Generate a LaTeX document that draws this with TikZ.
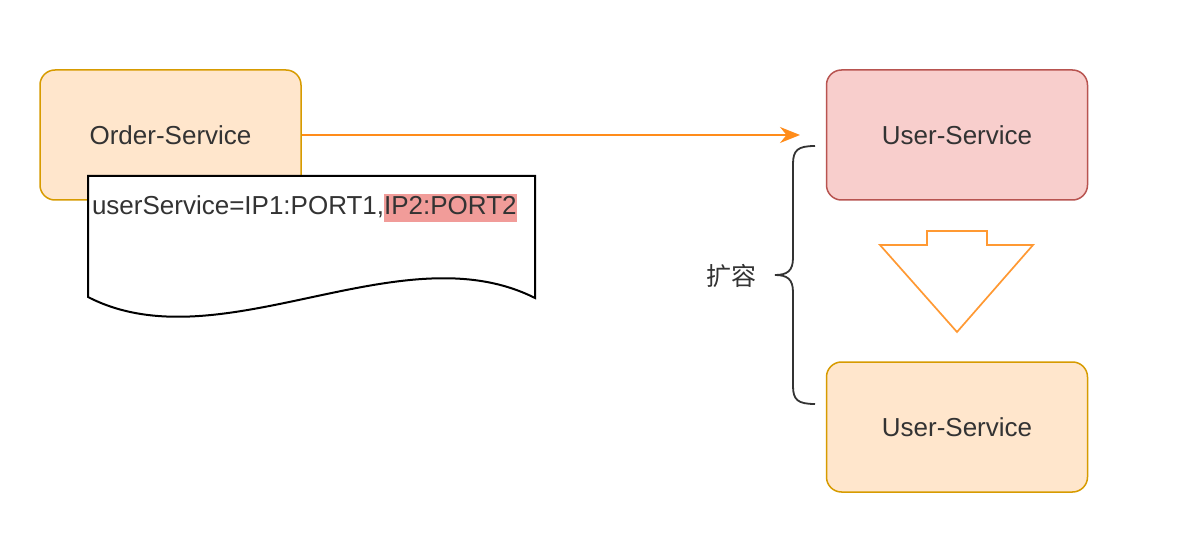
\documentclass[tikz,border=0pt]{standalone}
\usepackage{fontspec}
\setmainfont{Liberation Sans}
\newfontfamily\cjk{Noto Sans CJK SC}
\usetikzlibrary{positioning,arrows.meta}

\definecolor{orfill}{HTML}{FFE6CC}
\definecolor{ordraw}{HTML}{D79B00}
\definecolor{rdfill}{HTML}{F8CECC}
\definecolor{rddraw}{HTML}{B85450}
\definecolor{flowc}{HTML}{FF8C1A}
\definecolor{bigarr}{HTML}{FF9933}
\definecolor{hlc}{HTML}{F19C99}
\definecolor{txt}{HTML}{333333}

\tikzset{
  svc/.style={rounded corners=7.5pt, minimum width=130.5pt, minimum height=65pt,
    inner sep=0pt, line width=0.75pt, text=txt, font=\fontsize{13pt}{15pt}\selectfont},
  svcor/.style={svc, fill=orfill, draw=ordraw},
  svcrd/.style={svc, fill=rdfill, draw=rddraw},
  cfgtxt/.style={inner sep=0pt, outer sep=0pt, text height=10.5pt, text depth=3.8pt,
    text=txt, font=\fontsize{13pt}{15pt}\selectfont},
  flow/.style={draw=flowc, line width=0.75pt, -{Stealth[length=10pt,width=8pt]}}
}

\begin{document}
\begin{tikzpicture}[x=0.5pt,y=-0.5pt]
  \useasboundingbox[fill=white] (0,0) rectangle (1180,556);

  % order service and its config document
  \node[svcor] (order) at (170.5,135) {Order-Service};
  \draw[line width=1pt, fill=white] (88,176) -- (535,176) -- (535,298)
    .. controls (400,230) and (220,365) .. (88,297) -- cycle;
  \node[cfgtxt, anchor=west] (cfg) at (92,208) {userService=IP1:PORT1,};
  \node[cfgtxt, fill=hlc, right=0pt of cfg] (hl) {IP2:PORT2};

  % user services
  \node[svcrd] (user1) at (957,135) {User-Service};
  \node[svcor] (user2) at (957,427) {User-Service};

  \coordinate (tip) at (800,135);
  \draw[flow] (order.east) -- (tip);

  % scale out arrow
  \draw[draw=bigarr, line width=0.85pt, fill=white] (927,231) -- (987,231) -- (987,245)
    -- (1033,245) -- (957,332) -- (880,245) -- (927,245) -- cycle;

  % brace
  \coordinate (btop) at (815,146);
  \coordinate (bbot) at (815,404);
  \draw[line width=0.9pt, draw=txt] (btop) .. controls (798,146) and (793,150) .. (793,164)
    -- (793,258) .. controls (793,271) and (787,275) .. (775,275)
    .. controls (787,275) and (793,279) .. (793,292)
    -- (793,386) .. controls (793,400) and (798,404) .. (bbot);
  \node[text=txt, font=\fontsize{12.5pt}{15pt}\selectfont\cjk] (scale) at (731,276) {扩容};
\end{tikzpicture}
\end{document}
